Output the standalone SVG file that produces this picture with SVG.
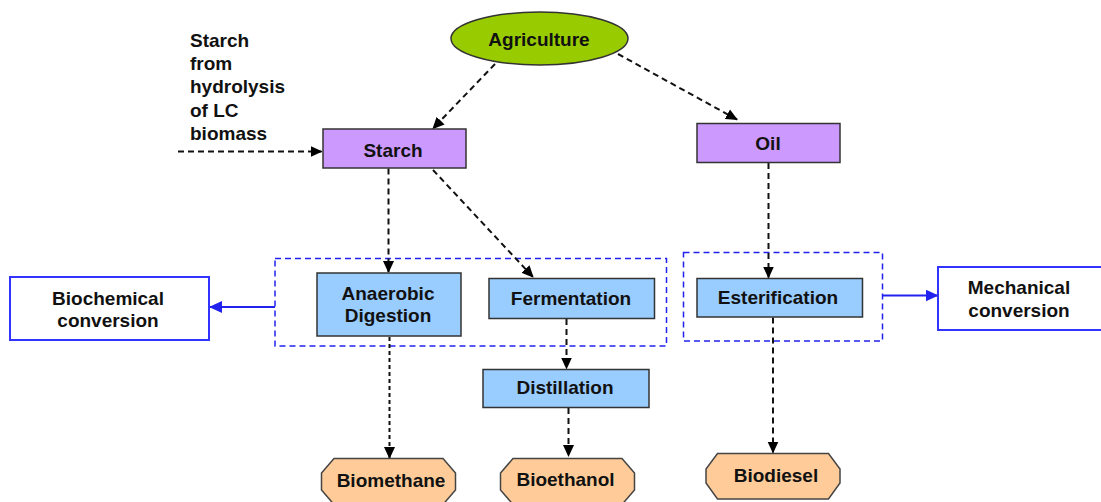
<svg xmlns="http://www.w3.org/2000/svg" width="1101" height="502" viewBox="0 0 1101 502">
<defs>
<style>
text{font-family:"Liberation Sans",Arial,sans-serif;font-weight:bold;font-size:19px;fill:#111;}
.c{text-anchor:middle;}
.purple{fill:#CC99FF;stroke:#333;stroke-width:1.5;}
.blue{fill:#99CCFF;stroke:#333;stroke-width:1.5;}
.orange{fill:#FFCC99;stroke:#444;stroke-width:1.5;}
.ell{fill:#99CC00;stroke:#333;stroke-width:1.5;}
.conv{fill:#fff;stroke:#3333FF;stroke-width:2;}
.group{fill:none;stroke:#2222EE;stroke-width:1.5;stroke-dasharray:6 4;}
.da{fill:none;stroke:#111;stroke-width:2;stroke-dasharray:6 4;marker-end:url(#ah);}
.dt{fill:none;stroke:#111;stroke-width:2;stroke-dasharray:4 3;marker-end:url(#ah);}
.bl{fill:none;stroke:#2222EE;stroke-width:2;marker-end:url(#bh);}
</style>
<marker id="ah" markerWidth="12" markerHeight="12" refX="11" refY="6" orient="auto" markerUnits="userSpaceOnUse"><path d="M0,0.5 L12,6 L0,11.5 Z" fill="#000"/></marker>
<marker id="bh" markerWidth="13" markerHeight="12" refX="12" refY="6" orient="auto" markerUnits="userSpaceOnUse"><path d="M0,0 L13,6 L0,12 Z" fill="#2222EE"/></marker>
</defs>
<rect width="1101" height="502" fill="#fff"/>

<g id="groups">
<rect class="group" x="275" y="258.5" width="391.5" height="87.5"/>
<rect class="group" x="683.5" y="252.5" width="199" height="88.5"/>
</g>

<g id="connectors">
<line class="da" x1="495" y1="64" x2="433" y2="128.5"/>
<line class="da" x1="618" y1="54" x2="737" y2="119.5"/>
<line class="da" x1="178" y1="151.5" x2="321.5" y2="151.5"/>
<line class="da" x1="388.5" y1="168.5" x2="388.5" y2="272"/>
<line class="da" x1="433" y1="170" x2="533" y2="277"/>
<line class="da" x1="768.5" y1="163" x2="768.5" y2="277.5"/>
<line class="da" x1="566.5" y1="319" x2="566.5" y2="368.5"/>
<line class="dt" x1="389.5" y1="337" x2="389.5" y2="458"/>
<line class="da" x1="568.5" y1="408" x2="568.5" y2="456"/>
<line class="da" x1="773" y1="317.5" x2="773" y2="452.5"/>
<line class="bl" x1="275" y1="307" x2="210" y2="307"/>
<line class="bl" x1="882.5" y1="295.5" x2="937.5" y2="295.5"/>
</g>

<g id="agriculture">
<ellipse class="ell" cx="539.5" cy="38.5" rx="88.5" ry="26.5"/>
<text class="c" x="539" y="46">Agriculture</text>
</g>

<g id="lc-label">
<text x="190" y="47">Starch</text>
<text x="190" y="70">from</text>
<text x="190" y="93">hydrolysis</text>
<text x="190" y="116.5">of LC</text>
<text x="190" y="139.5">biomass</text>
</g>

<g id="starch">
<rect class="purple" x="323" y="129" width="143" height="39"/>
<text class="c" x="393" y="157">Starch</text>
</g>

<g id="oil">
<rect class="purple" x="697" y="123.5" width="143" height="39"/>
<text class="c" x="768" y="150">Oil</text>
</g>

<g id="anaerobic">
<rect class="blue" x="317" y="273" width="144" height="63"/>
<text class="c" x="388" y="299.5">Anaerobic</text>
<text class="c" x="388" y="322">Digestion</text>
</g>

<g id="fermentation">
<rect class="blue" x="489" y="278.5" width="165.5" height="40"/>
<text class="c" x="571" y="305">Fermentation</text>
</g>

<g id="esterification">
<rect class="blue" x="697" y="278.5" width="165.5" height="38.5"/>
<text class="c" x="778" y="303.5">Esterification</text>
</g>

<g id="distillation">
<rect class="blue" x="483" y="369.5" width="166" height="38"/>
<text class="c" x="565" y="394">Distillation</text>
</g>

<g id="biochemical">
<rect class="conv" x="10" y="277" width="199" height="63"/>
<text class="c" x="108" y="304.5">Biochemical</text>
<text class="c" x="108" y="327">conversion</text>
</g>

<g id="mechanical">
<rect class="conv" x="938" y="267" width="166" height="63"/>
<text class="c" x="1019" y="293.5">Mechanical</text>
<text class="c" x="1019" y="317">conversion</text>
</g>

<g id="biomethane">
<polygon class="orange" points="334,458.5 443,458.5 455.5,473 455.5,490 443,504.5 334,504.5 321.5,490 321.5,473"/>
<text class="c" x="391" y="487">Biomethane</text>
</g>

<g id="bioethanol">
<polygon class="orange" points="513,458.5 622,458.5 634.5,473 634.5,490 622,504.5 513,504.5 500.5,490 500.5,473"/>
<text class="c" x="565.5" y="485.5">Bioethanol</text>
</g>

<g id="biodiesel">
<polygon class="orange" points="717.5,453.5 828.5,453.5 840,469 840,483 828.5,499 717.5,499 706,483 706,469"/>
<text class="c" x="776" y="482">Biodiesel</text>
</g>
</svg>
